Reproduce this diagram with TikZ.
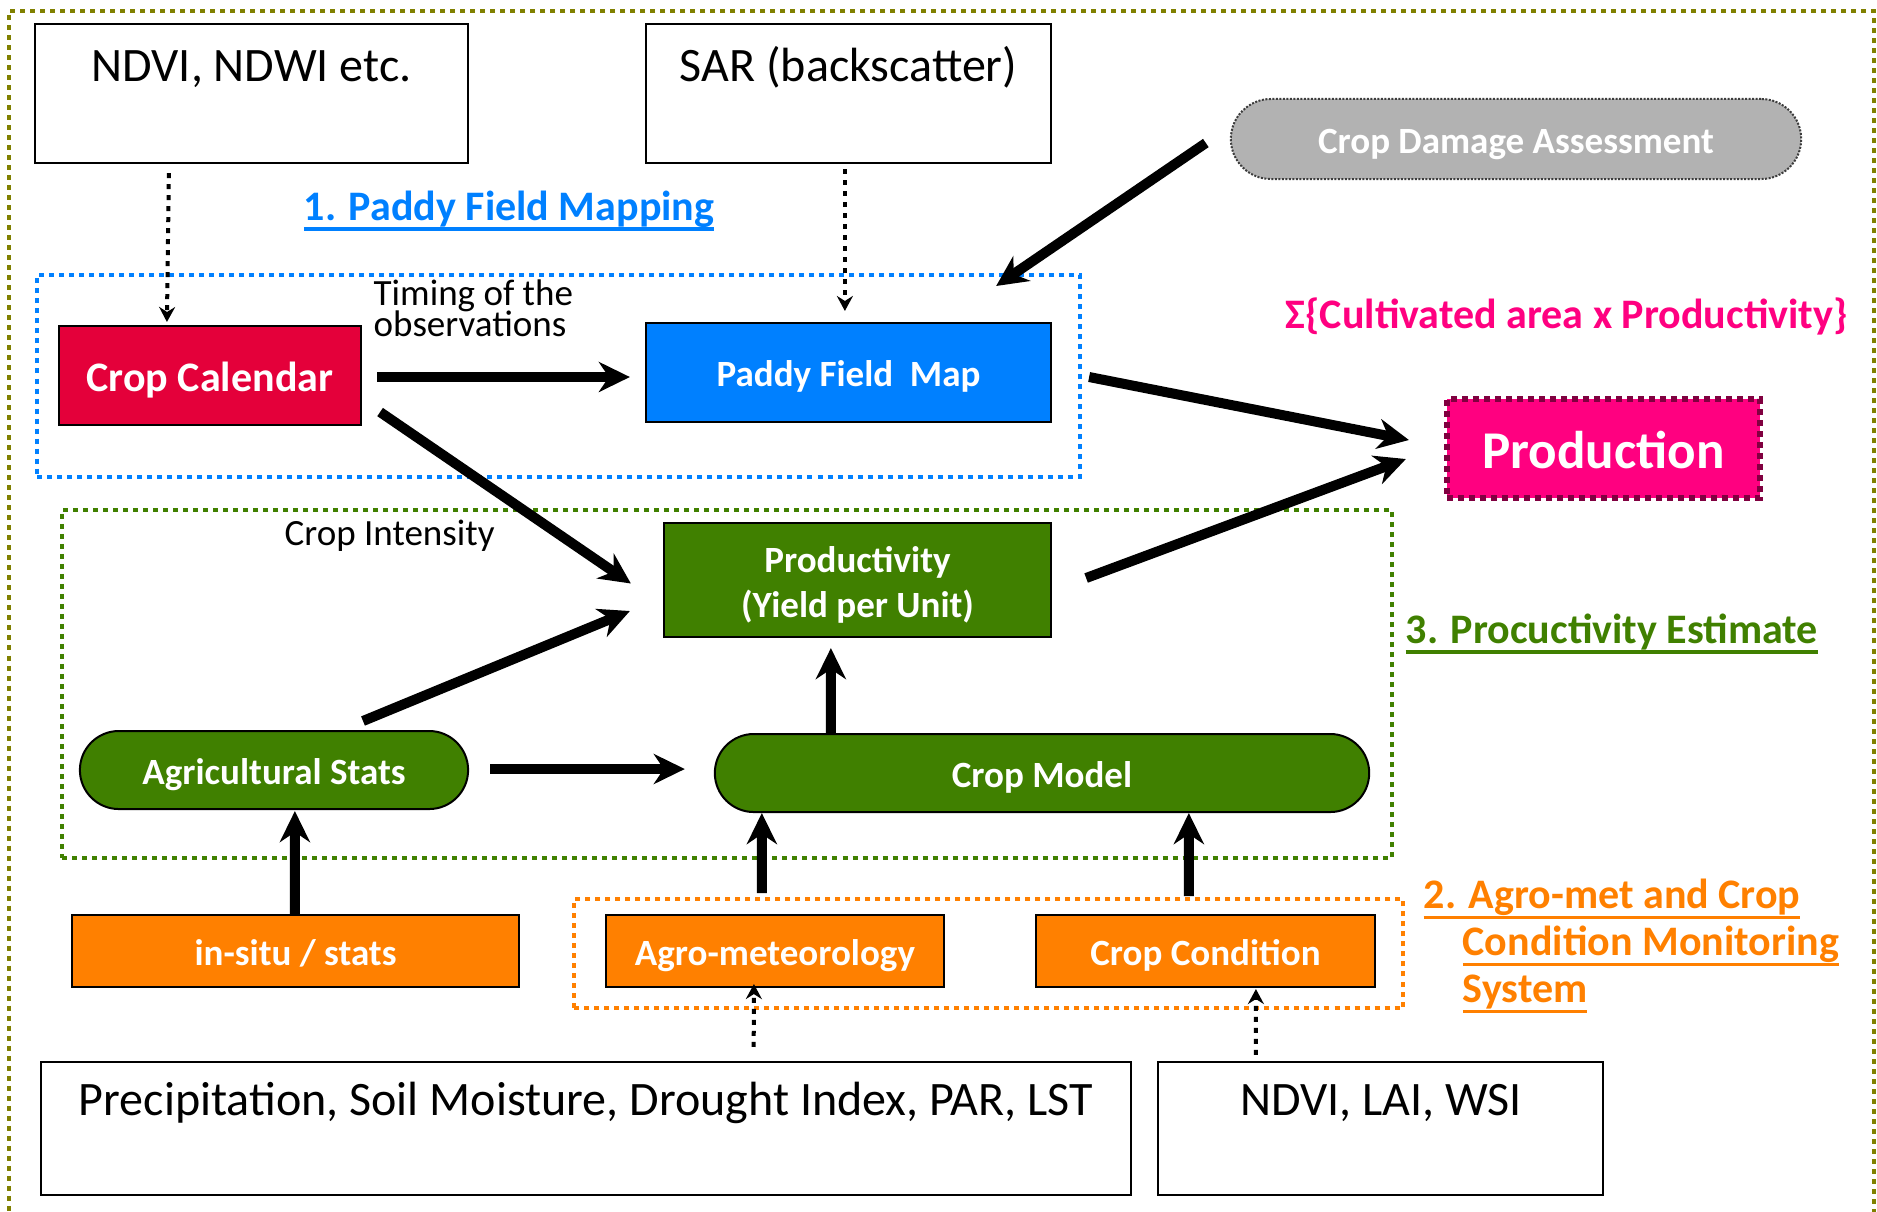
\documentclass[tikz,border=0pt]{standalone}
\usepackage{fontspec}
\setmainfont{Carlito}
\usetikzlibrary{arrows.meta,calc,fit}
\definecolor{cRed}{RGB}{228,0,58}
\definecolor{cBlue}{RGB}{0,128,255}
\definecolor{cPink}{RGB}{255,0,128}
\definecolor{cPinkB}{RGB}{128,0,64}
\definecolor{cGreen}{RGB}{64,128,0}
\definecolor{cOrange}{RGB}{255,128,0}
\definecolor{cGray}{RGB}{178,178,178}
\definecolor{cGrayB}{RGB}{60,60,60}
\definecolor{cOlive}{RGB}{128,128,0}
\newcommand\ulx[1]{\sbox0{#1}\rlap{\rule[-0.105cm]{\wd0}{0.035cm}}\usebox0}
\newcommand\fSrc{\fontsize{13.66pt}{15pt}\selectfont}
\newcommand\fMid{\fontsize{11.95pt}{12.8pt}\selectfont\bfseries}
\newcommand\fNode{\fontsize{10.53pt}{12.8pt}\selectfont\bfseries}
\newcommand\fNodeR{\fontsize{10.53pt}{8.7pt}\selectfont\lineskiplimit=-100pt}
\newcommand\fBig{\fontsize{15.1pt}{18pt}\selectfont\bfseries}
\begin{document}
\begin{tikzpicture}[x=0.01cm,y=-0.01cm,
  grp/.style={inner sep=0pt, line width=0.04cm, dash pattern=on 0.05cm off 0.05cm},
  srcbox/.style={draw=black, fill=white, line width=0.02cm, inner sep=0pt},
  box/.style={draw=black, line width=0.02cm, inner sep=0pt, text=white, font=\fNode, text height=10.05pt, text depth=2pt},
  srctext/.style={font=\fSrc, anchor=base, inner sep=0pt},
  bigarrow/.style={line width=0.1cm, -{Stealth[length=0.31cm,width=0.30cm,inset=0.1cm]}},
  dotarrow/.style={line width=0.04cm, dash pattern=on 0.05cm off 0.06cm, -{Stealth[length=0.15cm,width=0.16cm,inset=0.05cm]}}
]
\useasboundingbox (0,0) rectangle (1877,1211);
\clip (0,0) rectangle (1877,1211);

% group frames
\node[grp, draw=cOlive, line width=0.045cm, fit={(9,11) (1874,1240)}] (outer) {};
\node[grp, draw=cBlue, fit={(37,275) (1080,477)}] (grpmap) {};
\node[grp, draw=cGreen, fit={(62,510) (1392,858)}] (grpprod) {};
\node[grp, draw=cOrange, fit={(574,899) (1403,1008)}] (grpagro) {};

% source boxes
\node[srcbox, minimum width=4.33cm, minimum height=1.39cm] (ndvi) at (251.5,93.5) {};
\node[srcbox, minimum width=4.05cm, minimum height=1.39cm] (sar) at (848.5,93.5) {};
\node[srcbox, minimum width=10.90cm, minimum height=1.33cm] (precip) at (586,1128.5) {};
\node[srcbox, minimum width=4.45cm, minimum height=1.33cm] (ndvib) at (1380.5,1128.5) {};
\node[srctext] (ndvitxt) at (251.5,81) {NDVI, NDWI etc.};
\node[srctext] (sartxt) at (848.5,81) {SAR (backscatter)};
\node[srctext] (preciptxt) at (586,1115) {Precipitation, Soil Moisture, Drought Index, PAR, LST};
\node[srctext] (ndvibtxt) at (1381,1115) {NDVI, LAI, WSI};

% process nodes
\node[box, fill=cGray, draw=cGrayB, dash pattern=on 0.02cm off 0.015cm, rounded corners=0.4cm, minimum width=5.70cm, minimum height=0.80cm] (dmg) at (1516,139) {Crop Damage Assessment};
\node[box, fill=cRed, font=\fMid, text height=10.95pt, minimum width=3.02cm, minimum height=0.99cm] (cc) at (210,375.5) {Crop Calendar};
\node[box, fill=cBlue, minimum width=4.05cm, minimum height=0.99cm] (pfm) at (848.5,372.5) {Paddy Field\ \ Map};
\node[box, fill=cPink, draw=cPinkB, line width=0.06cm, dash pattern=on 0.06cm off 0.05cm, font=\fBig, text height=13.5pt, minimum width=3.13cm, minimum height=0.99cm] (prodn) at (1603.5,448.5) {Production};
\node[box, fill=cGreen, align=center, text height=23.4pt, text depth=2pt, minimum width=3.87cm, minimum height=1.14cm] (prod) at (857.5,580) {Productivity\\(Yield per Unit)};
\node[box, fill=cGreen, rounded corners=0.39cm, minimum width=3.88cm, minimum height=0.78cm] (ags) at (274,770) {Agricultural Stats};
\node[box, fill=cGreen, rounded corners=0.39cm, minimum width=6.54cm, minimum height=0.78cm] (cm) at (1042,773) {Crop Model};
\node[box, fill=cOrange, minimum width=4.47cm, minimum height=0.72cm] (insitu) at (295.5,951) {in-situ / stats};
\node[box, fill=cOrange, minimum width=3.38cm, minimum height=0.72cm] (agm) at (775,951) {Agro-meteorology};
\node[box, fill=cOrange, minimum width=3.39cm, minimum height=0.72cm] (ccond) at (1205.5,951) {Crop Condition};

% free texts
\node[font=\fMid, text=cBlue, anchor=base, inner sep=0pt] (t1) at (509,220) {\ulx{1. Paddy Field Mapping}};
\node[font=\fNodeR, anchor=base west, align=left, inner sep=0pt] (timing) at (373,336) {Timing of the\\observations};
\node[font=\fMid, text=cPink, anchor=base west, inner sep=0pt] (sum) at (1285,328) {Σ\{Cultivated area x Productivity\}};
\node[font=\fontsize{10.53pt}{12pt}\selectfont, anchor=base west, inner sep=0pt] (intens) at (284,545) {Crop Intensity};
\node[font=\fMid, text=cGreen, anchor=base west, inner sep=0pt] (t3) at (1405,643) {\ulx{3. Procuctivity Estimate}};
\node[font=\fontsize{11.95pt}{13.3pt}\selectfont\bfseries, text=cOrange, anchor=base west, align=left, inner sep=0pt] (t2) at (1423,1002.5) {\ulx{2. Agro-met and Crop}\\\hspace*{0.39cm}\ulx{Condition Monitoring}\\\hspace*{0.39cm}\ulx{System}};

% dotted input arrows
\draw[dotarrow] ($(ndvi.south west)+(135,9)$) -- ($(cc.north west)+(109,-3)$);
\draw[dotarrow] ($(sar.south west)+(200,5)$) -- ($(pfm.north west)+(200,-11)$);
\draw[dotarrow] ($(precip.north west)+(714,-14)$) -- ($(agm.south west)+(149,-4)$);
\draw[dotarrow] ($(ndvib.north west)+(99,-6)$) -- ($(ccond.south west)+(221,1)$);

% thick arrows
\draw[bigarrow] ($(cc.east)+(15,1.5)$) -- ($(pfm.west)+(-15,4.5)$);
\draw[bigarrow] ($(cc.south east)+(18,-14)$) -- ($(prod.west)+(-32,3.5)$);
\draw[bigarrow] ($(dmg.west)+(-24,4)$) -- ($(pfm.north east)+(-56,-36)$);
\draw[bigarrow] ($(pfm.east)+(37,4.5)$) -- ($(prodn.west)+(-35,-8.5)$);
\draw[bigarrow] ($(prod.east)+(34,-2)$) -- ($(prodn.west)+(-38,10.5)$);
\draw[bigarrow] ($(ags.north)+(89,-9)$) -- ($(prod.west)+(-33,31)$);
\draw[bigarrow] ($(ags.east)+(21,-1)$) -- ($(cm.west)+(-29,-4)$);
\draw[bigarrow] ($(cm.north west)+(117,0)$) -- ($(prod.south west)+(168,10)$);
\draw[bigarrow] ($(insitu.north west)+(224,0)$) -- ($(ags.south west)+(216,1)$);
\draw[bigarrow] ($(agm.north west)+(157,-21)$) -- ($(cm.south west)+(48,0)$);
\draw[bigarrow] ($(ccond.north west)+(154,-18)$) -- ($(cm.south west)+(475,0)$);
\end{tikzpicture}
\end{document}
